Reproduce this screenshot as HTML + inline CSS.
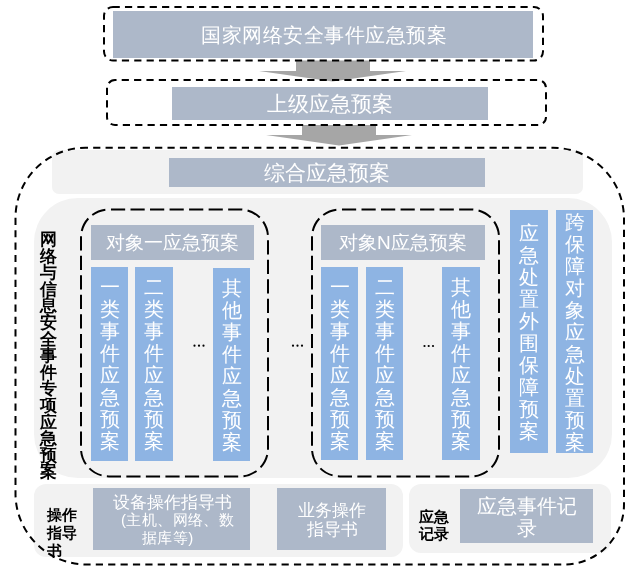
<!DOCTYPE html>
<html><head><meta charset="utf-8">
<style>
html,body{margin:0;padding:0;background:#fff;}
body{width:641px;height:573px;position:relative;overflow:hidden;font-family:"Liberation Sans",sans-serif;}
.a{position:absolute;box-sizing:border-box;}
.g{background:#adb8c9;color:#fff;font-weight:300;will-change:transform;}
.p{background:#f2f2f2;}
.b{background:#8eb4e3;color:#fff;font-weight:300;will-change:transform;}
.c{display:flex;align-items:center;justify-content:center;text-align:center;}
.t20{font-size:20px;line-height:22px;}
.v{will-change:transform;font-size:20px;line-height:22px;width:22px;white-space:normal;word-break:break-all;text-align:center;}
.k{color:#000;font-weight:bold;will-change:transform;}
.tx{display:inline-block;will-change:transform;}
svg{position:absolute;left:0;top:0;}
</style></head><body>
<!-- light panels -->
<div class="a p" style="left:52px;top:150px;width:531px;height:43.5px;border-radius:7px;"></div>
<div class="a p" style="left:34px;top:198px;width:578px;height:280px;border-radius:44px;"></div>
<div class="a p" style="left:34px;top:484px;width:369px;height:73px;border-radius:12px;"></div>
<div class="a p" style="left:409px;top:484px;width:202px;height:68.5px;border-radius:12px;"></div>

<!-- arrows -->
<svg width="641" height="573">
<path d="M296 60.5 H370 V71 H406 L332.5 81.5 L259 71 H296 Z" fill="#a6a6a6"/>
<path d="M302 125 H376 V135 H412 L339 145.5 L266 135 H302 Z" fill="#a6a6a6"/>
</svg>

<!-- gray boxes -->
<div class="a g c t20" style="left:113px;top:11px;width:420px;height:47px;font-size:20px;letter-spacing:0.55px;text-indent:2px;"><span class="tx">国家网络安全事件应急预案</span></div>
<div class="a g c t20" style="left:172px;top:87px;width:316px;height:33px;font-size:21px;"><span class="tx">上级应急预案</span></div>
<div class="a g c t20" style="left:169px;top:158px;width:316px;height:29px;font-size:21px;"><span class="tx">综合应急预案</span></div>
<div class="a g c t20" style="left:91px;top:225px;width:163px;height:35px;font-size:19px;"><span class="tx">对象一应急预案</span></div>
<div class="a g c t20" style="left:321px;top:225px;width:164px;height:35px;font-size:19px;"><span class="tx">对象N应急预案</span></div>
<div class="a g" style="left:93px;top:488px;width:157px;height:62px;"></div>
<div class="a" style="left:113px;top:493px;color:#fff;font-weight:300;will-change:transform;font-size:17px;line-height:20px;white-space:nowrap;">设备操作指导书</div>
<div class="a" style="left:121px;top:510px;color:#fff;font-weight:300;will-change:transform;font-size:15px;letter-spacing:0.4px;line-height:20px;white-space:nowrap;">(主机、网络、数</div>
<div class="a" style="left:142px;top:528px;color:#fff;font-weight:300;will-change:transform;font-size:15px;letter-spacing:0.4px;line-height:20px;white-space:nowrap;">据库等)</div>
<div class="a g c" style="left:277px;top:488px;width:109px;height:62px;font-size:16.5px;line-height:18.5px;"><span class="tx">业务操作<br>指导书</span></div>
<div class="a g c" style="left:460px;top:489px;width:133px;height:54px;font-size:20px;line-height:22px;padding-top:1px;"><span class="tx">应急事件记<br>录</span></div>

<!-- blue columns -->
<div class="a b c" style="left:91px;top:267px;width:37px;height:194px;"><div class="v">一类事件应急预案</div></div>
<div class="a b c" style="left:135px;top:267px;width:38px;height:194px;"><div class="v">二类事件应急预案</div></div>
<div class="a b c" style="left:213px;top:268px;width:37px;height:193px;"><div class="v">其他事件应急预案</div></div>
<div class="a b c" style="left:321px;top:267px;width:37px;height:193px;"><div class="v">一类事件应急预案</div></div>
<div class="a b c" style="left:366px;top:267px;width:37px;height:193px;"><div class="v">二类事件应急预案</div></div>
<div class="a b c" style="left:442px;top:267px;width:38px;height:193px;"><div class="v">其他事件应急预案</div></div>
<div class="a b c" style="left:510px;top:210px;width:38px;height:243px;"><div class="v">应急处置外围保障预案</div></div>
<div class="a b c" style="left:556px;top:210px;width:37px;height:243px;"><div class="v">跨保障对象应急处置预案</div></div>

<!-- bold labels -->
<div class="a k c" style="left:36px;top:231px;width:24px;height:249px;"><div style="font-size:16.5px;line-height:16.6px;width:17px;word-break:break-all;">网络与信息安全事件专项应急预案</div></div>
<div class="a k" style="left:47px;top:506px;width:34px;font-size:15px;line-height:17.8px;">操作<br>指导<br>书</div>
<div class="a k" style="left:419px;top:508px;width:34px;font-size:15px;line-height:17px;">应急<br>记录</div>

<!-- dashed outlines -->
<svg width="641" height="573" fill="none" stroke="#000" stroke-width="2">
<rect x="104" y="7" width="439" height="53.5" rx="9" stroke-dasharray="7.2 5.16" stroke-dashoffset="0.4"/>
<rect x="107" y="80" width="439" height="45" rx="8" stroke-dasharray="7.2 5.17" stroke-dashoffset="5.67"/>
<path d="M85.5 147.8 H553 A71 71 0 0 1 624 218.8 V504.5 A60 60 0 0 1 564 564.5 H86.5 A71 71 0 0 1 15.5 493.5 V217.8 A70 70 0 0 1 85.5 147.8 Z" stroke-dasharray="7.2 5.186" stroke-dashoffset="4.72"/>
<rect x="81" y="209.4" width="187" height="267" rx="28" stroke-dasharray="14.2 5.33" stroke-dashoffset="-1.97"/>
<rect x="312" y="209.4" width="187" height="267" rx="28" stroke-dasharray="14.2 5.33" stroke-dashoffset="-1.97"/>
</svg>

<!-- dots -->
<svg width="641" height="573" fill="#000">
<circle cx="194.5" cy="345.7" r="1.1"/><circle cx="199" cy="345.7" r="1.1"/><circle cx="203.5" cy="345.7" r="1.1"/>
<circle cx="293" cy="345.7" r="1.1"/><circle cx="297.5" cy="345.7" r="1.1"/><circle cx="302" cy="345.7" r="1.1"/>
<circle cx="424.5" cy="346" r="1.1"/><circle cx="428.7" cy="346" r="1.1"/><circle cx="433" cy="346" r="1.1"/>
</svg>
</body></html>
